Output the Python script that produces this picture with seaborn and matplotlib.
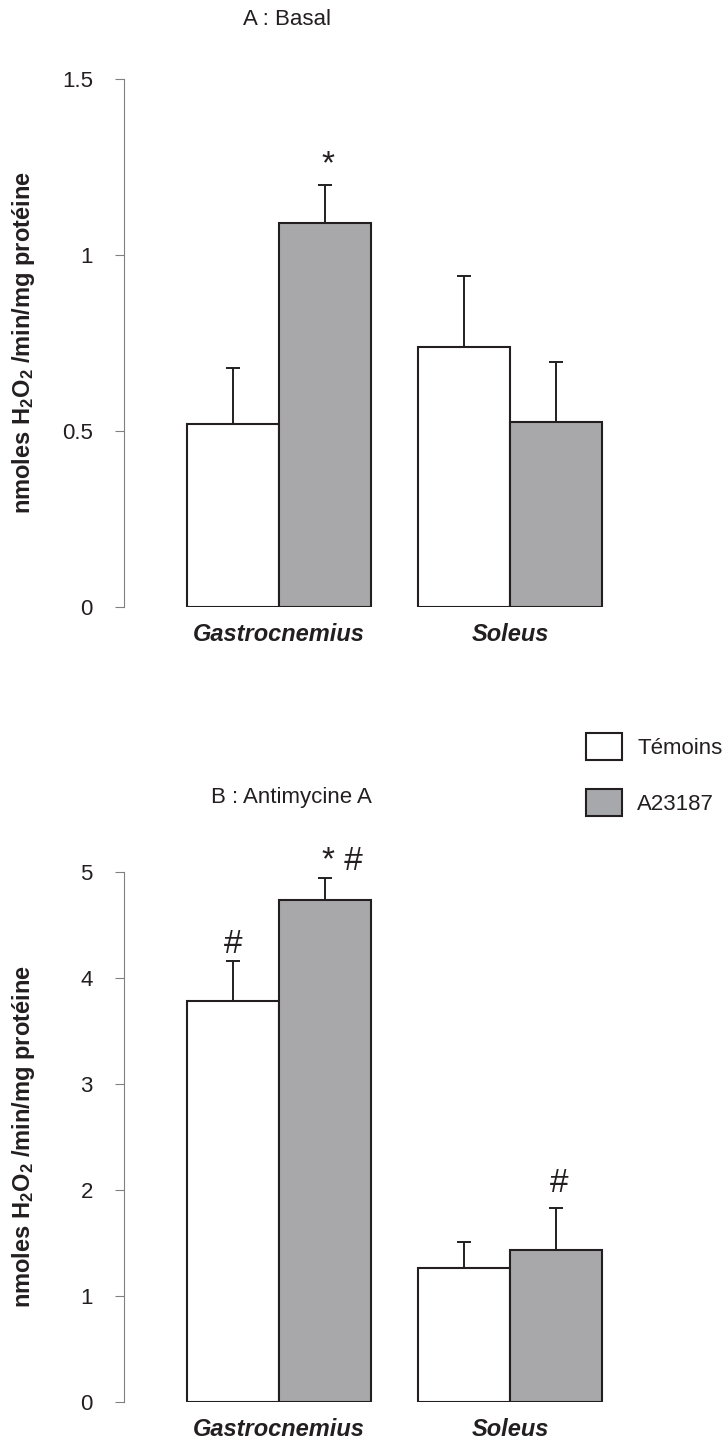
import matplotlib
matplotlib.use("Agg")
import matplotlib.pyplot as plt
from matplotlib.patches import Patch
from matplotlib.container import BarContainer
import seaborn as sns
import pandas as pd
import numpy as np

# ---------------- data ----------------
muscles = ["Gastrocnemius", "Soleus"]
groups = ["Témoins", "A23187"]

basal_temoins = [0.52, 0.74]
basal_a23187 = [1.09, 0.525]
basal_err_temoins = [0.16, 0.20]
basal_err_a23187 = [0.11, 0.17]

anti_temoins = [3.78, 1.26]
anti_a23187 = [4.74, 1.43]
anti_err_temoins = [0.38, 0.25]
anti_err_a23187 = [0.20, 0.40]

basal_ticks = [0, 0.5, 1, 1.5]
basal_ticklabels = ["0", "0.5", "1", "1.5"]
anti_ticks = [0, 1, 2, 3, 4, 5]
anti_ticklabels = ["0", "1", "2", "3", "4", "5"]

# annotations: (muscle index, group, text)
basal_marks = [(0, "A23187", "*")]
anti_marks = [(0, "Témoins", "#"), (0, "A23187", "* #"), (1, "A23187", "#")]

titles = ["A : Basal", "B : Antimycine A"]
ylabel = r"nmoles $\mathbf{H_2O_2}$ /min/mg protéine"

# ---------------- style ----------------
sns.set_theme(style="white")
plt.rcParams["font.family"] = ["Liberation Sans", "DejaVu Sans"]
plt.rcParams["mathtext.fontset"] = "custom"
plt.rcParams["mathtext.rm"] = "Liberation Sans"
plt.rcParams["mathtext.bf"] = "Liberation Sans:bold"
plt.rcParams["mathtext.it"] = "Liberation Sans:italic"

INK = "#231F20"
GREY = "#A7A8AB"
palette = {"Témoins": "white", "A23187": GREY}

W, H = 728, 1439
fig = plt.figure(figsize=(W / 100, H / 100), dpi=100)

ax_left = 124 / W
ax_width = 490 / W
xlim = (-0.671, 1.45)

def make_df(t, a, et, ea):
    rows = []
    for i, m in enumerate(muscles):
        rows.append({"muscle": m, "group": "Témoins", "value": t[i], "err": et[i]})
        rows.append({"muscle": m, "group": "A23187", "value": a[i], "err": ea[i]})
    return pd.DataFrame(rows)

def draw(ax, df, ylim, ticks, ticklabels, title, title_xy, marks, mark_offsets):
    sns.barplot(data=df, x="muscle", y="value", hue="group", order=muscles,
                hue_order=groups, palette=palette, edgecolor=INK, linewidth=1.5,
                errorbar=None, width=0.8, legend=False, ax=ax, zorder=3)
    bar_conts = [c for c in ax.containers if isinstance(c, BarContainer)]
    bar_tops = {}
    for gi, cont in enumerate(bar_conts):
        g = groups[gi]
        sub = df[df.group == g].set_index("muscle").loc[muscles]
        xs = [p.get_x() + p.get_width() / 2 for p in cont.patches]
        hs = [p.get_height() for p in cont.patches]
        errs = sub["err"].values
        ax.errorbar(xs, hs, yerr=[np.zeros(len(errs)), errs], fmt="none",
                    ecolor=INK, elinewidth=1.4, capsize=5.2, capthick=1.4, zorder=2)
        for mi, (x, h, e) in enumerate(zip(xs, hs, errs)):
            bar_tops[(mi, g)] = (x, h + e)
    for (mi, g, txt), (dx, dy) in zip(marks, mark_offsets):
        x, top = bar_tops[(mi, g)]
        ax.annotate(txt, xy=(x, top), xytext=(dx, dy), textcoords="offset points",
                    ha="center", va="baseline", fontsize=24, color=INK)
    ax.set_xlim(*xlim)
    ax.set_ylim(*ylim)
    ax.set_yticks(ticks)
    ax.set_yticklabels(ticklabels)
    ax.set_xlabel("")
    ax.set_ylabel(ylabel, fontsize=17, fontweight="bold", color=INK)
    ax.yaxis.set_label_coords(-0.178, 0.5)
    for s in ["top", "right", "bottom"]:
        ax.spines[s].set_visible(False)
    ax.spines["left"].set_color("#808080")
    ax.spines["left"].set_linewidth(0.8)
    ax.tick_params(axis="y", length=6.5, width=0.8, color="#808080", pad=16,
                   labelsize=16, labelcolor=INK, left=True, direction="out")
    ax.tick_params(axis="x", length=0, pad=11.5)
    for lab in ax.get_xticklabels():
        lab.set_fontsize(17)
        lab.set_fontweight("bold")
        lab.set_fontstyle("italic")
        lab.set_color(INK)
    ax.text(title_xy[0], title_xy[1], title, transform=ax.transAxes, ha="center",
            va="center", fontsize=16, color=INK)
    ax.grid(False)

# top panel
ax1 = fig.add_axes([ax_left, 1 - 607 / H, ax_width, 528 / H])
df1 = make_df(basal_temoins, basal_a23187, basal_err_temoins, basal_err_a23187)
draw(ax1, df1, (0, 1.5), basal_ticks, basal_ticklabels, titles[0], (0.333, 1.112),
     basal_marks, [(2, 8)])

# bottom panel
ax2 = fig.add_axes([ax_left, 1 - 1402 / H, ax_width, 530 / H])
df2 = make_df(anti_temoins, anti_a23187, anti_err_temoins, anti_err_a23187)
draw(ax2, df2, (0, 5), anti_ticks, anti_ticklabels, titles[1], (0.342, 1.1415),
     anti_marks, [(0, 6), (12, 6), (2, 11.5)])

# legend
handles = [Patch(facecolor=palette[g], edgecolor=INK, linewidth=1.5) for g in groups]
fig.legend(handles, groups, loc="upper left", bbox_to_anchor=(586 / W, 1 - 733 / H),
           bbox_transform=fig.transFigure, frameon=False, fontsize=16,
           handlelength=1.6, handleheight=1.5, handletextpad=0.7, labelspacing=1.3,
           borderpad=0, borderaxespad=0, labelcolor=INK)

fig.savefig("out.png", dpi=100)
